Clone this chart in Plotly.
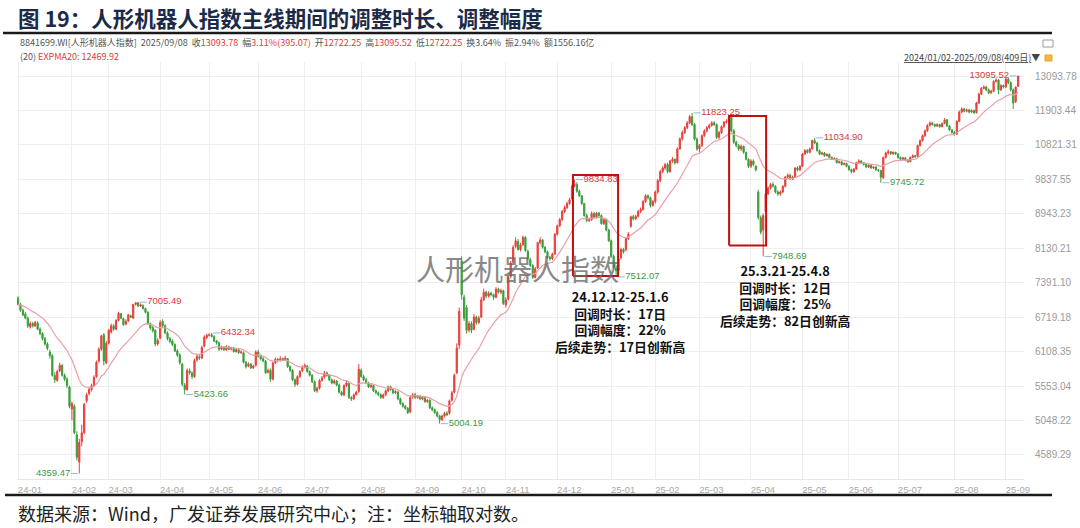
import math
import plotly.graph_objects as go

# ---------------- data ----------------
MONTH_LABELS = ["24-01", "24-02", "24-03", "24-04", "24-05", "24-06", "24-07", "24-08", "24-09",
                "24-10", "24-11", "24-12", "25-01", "25-02", "25-03", "25-04", "25-05", "25-06",
                "25-07", "25-08", "25-09"]
MONTH_DAYS = [22, 15, 21, 20, 20, 19, 23, 22, 19, 18, 21, 22, 18, 18, 21, 21, 19, 20, 23, 21, 6]

OPEN = [
    # 2024-01
    7080, 6960, 6850, 6780, 6700, 6540, 6600, 6560, 6610, 6500, 6420, 6330, 6240, 6100, 6040, 5720, 5640, 5790, 5880, 5720, 5660, 5540,
    # 2024-02
    5210, 5250, 4850, 4500, 4760, 4880, 5330, 5440, 5500, 5560, 5700, 5950, 6150, 6400, 5920,
    # 2024-03
    6250, 6450, 6560, 6500, 6660, 6780, 6690, 6590, 6650, 6740, 6700, 6960, 6990, 6930, 6940, 6880, 6810, 6600, 6530, 6480, 6240,
    # 2024-04
    6340, 6640, 6560, 6430, 6330, 6290, 6230, 6120, 6050, 5900, 5570, 5500, 5790, 5760, 5700, 5970, 6020, 6000, 6200, 6350,
    # 2024-05
    6390, 6400, 6370, 6290, 6260, 6150, 6180, 6140, 6190, 6150, 6170, 6110, 6140, 6090, 6090, 5930, 5870, 5900, 5840, 5880,
    # 2024-06
    6100, 6030, 5990, 5950, 5770, 5800, 5660, 5920, 5980, 5960, 5990, 5970, 5990, 5860, 5800, 5650, 5580, 5700, 5790,
    # 2024-07
    5850, 5870, 5780, 5720, 5620, 5480, 5520, 5640, 5690, 5760, 5720, 5650, 5600, 5630, 5570, 5460, 5420, 5560, 5590, 5380, 5360, 5420, 5470,
    # 2024-08
    5800, 5700, 5650, 5600, 5540, 5560, 5480, 5450, 5420, 5380, 5420, 5480, 5540, 5500, 5450, 5460, 5360, 5290, 5250, 5220, 5170, 5390,
    # 2024-09
    5420, 5380, 5400, 5360, 5380, 5320, 5340, 5230, 5200, 5160, 5110, 5060, 5110, 5150, 5150, 5340, 5460, 5760, 6220,
    # 2024-10
    7850, 7100, 6900, 6480, 6600, 6500, 6720, 6620, 6720, 7050, 7200, 7120, 7180, 7150, 7100, 7260, 7200, 7230,
    # 2024-11
    6950, 7060, 7520, 7820, 8170, 8280, 8100, 8210, 8380, 8060, 7880, 7750, 7500, 7700, 8260, 8320, 8150, 8050, 7930, 7900, 8000,
    # 2024-12
    8450, 8650, 8800, 9000, 9100, 9200, 9320, 9650, 9700, 9520, 9400, 9200, 8900, 8780, 8800, 8950, 8850, 8960, 8900, 8700, 8800, 8550,
    # 2025-01
    8300, 7950, 7700, 7650, 7920, 8100, 8100, 8350, 8640, 8870, 8820, 8880, 9000, 9050, 9250, 9400, 9350, 9150,
    # 2025-02
    9250, 9500, 9800, 10050, 10150, 10250, 10050, 10350, 10400, 10300, 10700, 11000, 11200, 11350, 11500, 11700, 11450, 11000,
    # 2025-03
    10700, 10800, 11100, 11250, 11350, 11420, 11500, 11450, 11050, 11200, 11380, 11520, 11560, 11700, 11250, 10900, 10800, 10700, 10780, 10600, 10400,
    # 2025-04
    10200, 10350, 10200, 9500, 8850, 8550, 9000, 9450, 9600, 9700, 9650, 9500, 9450, 9500, 9650, 9900, 9950, 9850, 9900, 10150, 10100,
    # 2025-05
    10200, 10550, 10650, 10600, 10700, 10950, 10880, 10650, 10550, 10580, 10500, 10540, 10450, 10400, 10420, 10300, 10330, 10250, 10280,
    # 2025-06
    10200, 10100, 10050, 10120, 10300, 10350, 10300, 10250, 10180, 10230, 10150, 10180, 10100, 10080, 9880, 10450, 10580, 10620, 10560, 10600,
    # 2025-07
    10550, 10450, 10400, 10440, 10370, 10330, 10450, 10500, 10480, 10800, 10950, 11100, 11250, 11420, 11500, 11450, 11400, 11450, 11380, 11480, 11600, 11400, 11280,
    # 2025-08
    11200, 11150, 11550, 11850, 11950, 11880, 11920, 11850, 11900, 11830, 12150, 12450, 12650, 12700, 12600, 12500, 12550, 12900, 12950, 12600, 12750,
    # 2025-09
    12700, 12980, 12850, 12600, 12200, 12722.25,
]

HIGH = [
    7120, 6990, 6880, 6820, 6730, 6640, 6630, 6650, 6640, 6530, 6450, 6360, 6270, 6140, 6070, 5770, 5810, 5920, 5900, 5750, 5690, 5560,
    5320, 5280, 4900, 4800, 4990, 5300, 5450, 5530, 5590, 5720, 5960, 6180, 6400, 6430, 6290,
    6500, 6600, 6590, 6680, 6820, 6800, 6710, 6680, 6780, 6770, 6970, 7000, 7005.49, 6980, 6960, 6900, 6830, 6620, 6560, 6500, 6340,
    6660, 6680, 6590, 6460, 6360, 6320, 6250, 6150, 6080, 5920, 5600, 5830, 5830, 5780, 5990, 6070, 6050, 6210, 6390, 6420,
    6425, 6432.34, 6390, 6310, 6280, 6210, 6200, 6220, 6210, 6190, 6190, 6160, 6160, 6130, 6110, 5950, 5930, 5920, 5890, 6130,
    6140, 6060, 6020, 5970, 5830, 5830, 5940, 6010, 6000, 6030, 6010, 6040, 6000, 5880, 5820, 5670, 5720, 5800, 5880,
    5910, 5890, 5800, 5740, 5640, 5540, 5660, 5710, 5790, 5780, 5740, 5670, 5660, 5650, 5590, 5480, 5580, 5630, 5610, 5400, 5440, 5480, 5900,
    5830, 5730, 5680, 5620, 5590, 5580, 5500, 5470, 5440, 5440, 5500, 5560, 5560, 5520, 5490, 5480, 5380, 5310, 5270, 5240, 5400, 5450,
    5450, 5420, 5420, 5400, 5400, 5360, 5350, 5250, 5220, 5180, 5130, 5130, 5170, 5180, 5350, 5480, 5750, 6250, 6900,
    7950, 7150, 6950, 6650, 6640, 6780, 6750, 6740, 7110, 7270, 7230, 7220, 7210, 7170, 7300, 7290, 7270, 7250,
    7100, 7530, 7850, 8200, 8380, 8340, 8250, 8420, 8400, 8100, 7920, 7780, 7720, 8280, 8380, 8340, 8180, 8080, 7960, 8030, 8480,
    8680, 8840, 9040, 9150, 9250, 9350, 9700, 9834.83, 9760, 9560, 9420, 9220, 8950, 8850, 9000, 8990, 8990, 8990, 8930, 8830, 8830, 8580,
    8330, 7990, 7760, 7930, 8140, 8140, 8380, 8500, 8900, 8920, 8920, 9040, 9100, 9290, 9440, 9440, 9380, 9290,
    9540, 9850, 10100, 10200, 10300, 10300, 10380, 10460, 10420, 10750, 11050, 11260, 11400, 11560, 11760, 11823.25, 11500, 11050,
    10850, 11140, 11300, 11400, 11480, 11560, 11560, 11480, 11250, 11420, 11560, 11620, 11760, 11720, 11300, 10950, 10850, 10830, 10800, 10620, 10430,
    10400, 10400, 10240, 9560, 8900, 8950, 9480, 9650, 9740, 9760, 9680, 9540, 9540, 9680, 9930, 10000, 9990, 9940, 10180, 10200, 10230,
    10580, 10700, 10700, 10740, 10980, 11034.90, 10900, 10680, 10620, 10610, 10570, 10570, 10480, 10460, 10440, 10360, 10360, 10310, 10300,
    10230, 10130, 10150, 10330, 10400, 10380, 10320, 10270, 10260, 10250, 10200, 10200, 10120, 10100, 10480, 10620, 10680, 10640, 10630, 10620,
    10580, 10480, 10470, 10460, 10400, 10480, 10540, 10530, 10830, 10990, 11140, 11290, 11460, 11550, 11540, 11480, 11490, 11470, 11510, 11650, 11620, 11430, 11310,
    11250, 11580, 11900, 12010, 11980, 11960, 11950, 11940, 11930, 12190, 12500, 12700, 12760, 12740, 12650, 12600, 12940, 13010, 12980, 12800, 12790,
    13020, 13030, 12900, 12650, 12720, 13095.52,
]

LOW = [
    6940, 6820, 6740, 6680, 6520, 6510, 6530, 6540, 6480, 6390, 6300, 6210, 6130, 5990, 5700, 5600, 5620, 5770, 5700, 5630, 5520, 5220,
    5050, 4860, 4520, 4359.47, 4700, 4860, 5300, 5410, 5470, 5540, 5680, 5920, 6120, 5880, 5900,
    6230, 6420, 6470, 6480, 6640, 6680, 6560, 6570, 6630, 6700, 6690, 6940, 6910, 6910, 6860, 6790, 6580, 6490, 6440, 6200, 6210,
    6320, 6530, 6410, 6300, 6250, 6200, 6100, 6020, 5890, 5550, 5423.66, 5480, 5730, 5660, 5680, 5940, 5970, 5980, 6180, 6320,
    6370, 6350, 6270, 6230, 6120, 6130, 6120, 6120, 6130, 6130, 6090, 6090, 6070, 6070, 5910, 5830, 5850, 5820, 5820, 5860,
    6010, 5960, 5930, 5740, 5750, 5620, 5640, 5900, 5930, 5940, 5950, 5950, 5840, 5770, 5630, 5540, 5560, 5680, 5770,
    5830, 5760, 5700, 5600, 5460, 5450, 5500, 5620, 5670, 5700, 5630, 5580, 5580, 5550, 5440, 5400, 5400, 5540, 5360, 5330, 5340, 5410, 5450,
    5680, 5630, 5580, 5520, 5520, 5460, 5430, 5400, 5360, 5360, 5400, 5460, 5480, 5430, 5430, 5340, 5270, 5230, 5200, 5140, 5150, 5360,
    5360, 5360, 5340, 5340, 5300, 5300, 5210, 5180, 5140, 5090, 5004.19, 5040, 5090, 5110, 5130, 5320, 5440, 5740, 6150,
    7050, 6650, 6420, 6440, 6430, 6480, 6580, 6590, 6700, 7020, 7080, 7090, 7120, 7050, 7080, 7170, 7160, 6950,
    6900, 7040, 7480, 7800, 8130, 8080, 8060, 8180, 8050, 7870, 7720, 7470, 7480, 7680, 8220, 8120, 8020, 7900, 7860, 7870, 7980,
    8420, 8620, 8770, 8960, 9060, 9170, 9300, 9620, 9480, 9370, 9170, 8870, 8740, 8740, 8770, 8820, 8830, 8870, 8680, 8670, 8520, 8270,
    7920, 7680, 7512.07, 7600, 7880, 8010, 8060, 8320, 8600, 8780, 8790, 8850, 8960, 9020, 9220, 9300, 9100, 9120,
    9200, 9450, 9760, 10000, 10100, 10000, 10020, 10300, 10250, 10280, 10680, 10950, 11150, 11300, 11460, 11400, 10950, 10650,
    10600, 10760, 11060, 11200, 11300, 11380, 11400, 11000, 11000, 11150, 11340, 11480, 11520, 11200, 10850, 10750, 10640, 10650, 10560, 10370, 10150,
    10150, 10200, 10050, 8800, 8450, 7948.69, 8980, 9420, 9560, 9620, 9460, 9400, 9400, 9470, 9620, 9860, 9820, 9820, 9880, 10060, 10060,
    10180, 10520, 10560, 10570, 10680, 10850, 10620, 10520, 10520, 10470, 10480, 10430, 10380, 10370, 10280, 10280, 10220, 10230, 10170,
    10080, 10000, 10020, 10100, 10270, 10270, 10220, 10150, 10150, 10130, 10120, 10070, 10040, 9745.72, 9850, 10420, 10540, 10530, 10530, 10520,
    10420, 10370, 10380, 10340, 10300, 10310, 10430, 10440, 10460, 10770, 10920, 11060, 11220, 11390, 11420, 11360, 11370, 11350, 11360, 11460, 11380, 11250, 11160,
    11100, 11120, 11520, 11810, 11840, 11840, 11810, 11820, 11790, 11800, 12120, 12420, 12620, 12560, 12450, 12460, 12520, 12860, 12450, 12560, 12650,
    12660, 12800, 12550, 11950, 12150, 12722.25,
]

CLOSE = [
    6960, 6850, 6760, 6700, 6560, 6600, 6560, 6620, 6500, 6420, 6330, 6240, 6160, 6040, 5720, 5650, 5780, 5880, 5720, 5660, 5560, 5250,
    5290, 4880, 4560, 4750, 4880, 5280, 5420, 5500, 5560, 5690, 5930, 6150, 6380, 5950, 6250,
    6480, 6560, 6500, 6660, 6790, 6700, 6580, 6640, 6760, 6720, 6960, 6990, 6930, 6950, 6880, 6810, 6600, 6520, 6470, 6240, 6300,
    6620, 6560, 6430, 6330, 6280, 6230, 6120, 6050, 5920, 5580, 5500, 5800, 5760, 5700, 5960, 6030, 6000, 6180, 6360, 6390,
    6400, 6370, 6290, 6260, 6150, 6180, 6140, 6190, 6150, 6170, 6110, 6140, 6090, 6100, 5930, 5860, 5900, 5840, 5870, 6100,
    6030, 5990, 5950, 5760, 5800, 5660, 5920, 5980, 5960, 5990, 5970, 6000, 5860, 5800, 5650, 5580, 5700, 5780, 5850,
    5880, 5780, 5720, 5620, 5480, 5520, 5640, 5680, 5760, 5720, 5650, 5600, 5630, 5570, 5460, 5420, 5560, 5600, 5380, 5360, 5420, 5460, 5820,
    5700, 5650, 5600, 5540, 5560, 5480, 5450, 5420, 5380, 5420, 5480, 5540, 5500, 5450, 5470, 5360, 5290, 5250, 5220, 5160, 5380, 5420,
    5380, 5400, 5360, 5380, 5320, 5340, 5230, 5200, 5160, 5110, 5060, 5110, 5150, 5130, 5330, 5450, 5720, 6170, 6830,
    7150, 6700, 6480, 6600, 6480, 6720, 6620, 6700, 7050, 7200, 7120, 7180, 7150, 7100, 7260, 7200, 7230, 6980,
    7050, 7500, 7800, 8150, 8300, 8100, 8200, 8380, 8080, 7900, 7750, 7500, 7680, 8260, 8320, 8150, 8050, 7920, 7900, 8000, 8450,
    8650, 8800, 9000, 9100, 9200, 9300, 9650, 9720, 9520, 9400, 9200, 8900, 8780, 8800, 8950, 8850, 8960, 8900, 8700, 8800, 8550, 8300,
    7950, 7700, 7640, 7900, 8100, 8050, 8350, 8450, 8870, 8820, 8880, 9000, 9050, 9250, 9400, 9350, 9150, 9250,
    9500, 9800, 10050, 10150, 10250, 10050, 10350, 10400, 10300, 10700, 11000, 11200, 11350, 11500, 11700, 11450, 11000, 10700,
    10800, 11100, 11250, 11350, 11420, 11500, 11450, 11050, 11200, 11380, 11520, 11550, 11700, 11250, 10900, 10800, 10700, 10780, 10600, 10400, 10200,
    10350, 10250, 10100, 8850, 8500, 8900, 9450, 9600, 9700, 9650, 9500, 9450, 9500, 9650, 9900, 9950, 9850, 9900, 10150, 10100, 10200,
    10550, 10650, 10600, 10700, 10950, 10880, 10650, 10550, 10580, 10500, 10540, 10450, 10400, 10420, 10300, 10330, 10250, 10280, 10200,
    10100, 10050, 10120, 10300, 10350, 10300, 10250, 10180, 10230, 10150, 10180, 10100, 10080, 9900, 10450, 10580, 10620, 10560, 10600, 10550,
    10450, 10400, 10440, 10370, 10330, 10450, 10500, 10480, 10800, 10950, 11100, 11250, 11420, 11500, 11450, 11400, 11450, 11380, 11480, 11600, 11400, 11280, 11200,
    11150, 11550, 11850, 11950, 11880, 11920, 11850, 11900, 11830, 12150, 12450, 12650, 12700, 12600, 12500, 12550, 12900, 12950, 12600, 12750, 12700,
    12980, 12850, 12600, 12150, 12698.71, 13093.78,
]

Y_TICKS = [13093.78, 11903.44, 10821.31, 9837.55, 8943.23, 8130.21, 7391.10, 6719.18,
           6108.35, 5553.04, 5048.22, 4589.29]
Y_TICK_TEXT = ["13093.78", "11903.44", "10821.31", "9837.55", "8943.23", "8130.21", "7391.10",
               "6719.18", "6108.35", "5553.04", "5048.22", "4589.29"]

# marked extremes: (trading-day index, 'H' or 'L', label side)
MARKS = [(25, "L", "left"), (49, "H", "right"), (68, "L", "right"), (79, "H", "right"),
         (172, "L", "right"), (227, "H", "right"), (244, "L", "right"), (275, "H", "right"),
         (304, "L", "right"), (325, "H", "right"), (352, "L", "right"), (408, "H", "left")]

# highlighted correction windows: (first idx, last idx, price bottom, price top)
BOXES = [(226.4, 244.8, 7530, 9960), (290.1, 305.2, 8190, 11720)]

BLOCK1 = ["24.12.12-25.1.6", "回调时长：17日", "回调幅度：22%", "后续走势：17日创新高"]
BLOCK2 = ["25.3.21-25.4.8", "回调时长：12日", "回调幅度：25%", "后续走势：82日创新高"]

EMA_N = 20

# ---------------- derived ----------------
N = len(CLOSE)
idx = list(range(N))
month_start = []
s = 0
for d in MONTH_DAYS:
    month_start.append(s)
    s += d

alpha = 2.0 / (EMA_N + 1)
ema = []
for i, c in enumerate(CLOSE):
    ema.append(c if i == 0 else alpha * c + (1 - alpha) * ema[-1])

RED = "#e8403c"
GREEN = "#3a9e3a"
CJK = "Noto Sans CJK SC, Noto Sans, sans-serif"
LAT = "Liberation Sans, Noto Sans CJK SC, sans-serif"

# plot-area pixel frame
PL, PR, PT, PB = 17, 1024, 62, 479


def px(x):
    return (x - PL) / (PR - PL)


def py(y):
    return (PB - y) / (PB - PT)


fig = go.Figure()

fig.add_trace(go.Candlestick(
    x=idx, open=OPEN, high=HIGH, low=LOW, close=CLOSE,
    increasing=dict(line=dict(color=RED, width=1), fillcolor=RED),
    decreasing=dict(line=dict(color=GREEN, width=1), fillcolor=GREEN),
    whiskerwidth=0, showlegend=False, hoverinfo="skip"))

fig.add_trace(go.Scatter(x=idx, y=ema, mode="lines",
                         line=dict(color="#eb9ea8", width=1.2),
                         showlegend=False, hoverinfo="skip"))

# extreme-value markers
cx, cy, tx, ty, tt, tp, tc = [], [], [], [], [], [], []
for i, kind, side in MARKS:
    v = HIGH[i] if kind == "H" else LOW[i]
    sgn = 1 if side == "right" else -1
    cx += [i + sgn * 0.6, i + sgn * 3.5, None]
    cy += [v, v, None]
    tx.append(i + sgn * 3.7)
    ty.append(v)
    tt.append(f"{v:.2f}")
    tp.append("middle right" if side == "right" else "middle left")
    tc.append("#d83a3a" if kind == "H" else "#3e9a3e")
fig.add_trace(go.Scatter(x=cx, y=cy, mode="lines", line=dict(color="#8db8e0", width=1),
                         showlegend=False, hoverinfo="skip"))
fig.add_trace(go.Scatter(x=tx, y=ty, mode="text", text=tt, textposition=tp,
                         textfont=dict(size=9.5, color=tc, family=LAT),
                         showlegend=False, hoverinfo="skip", cliponaxis=False))

# red correction boxes
for x0, x1, y0, y1 in BOXES:
    fig.add_trace(go.Scatter(x=[x0, x1, x1, x0, x0], y=[y0, y0, y1, y1, y0], mode="lines",
                             line=dict(color="#c40f0f", width=2),
                             showlegend=False, hoverinfo="skip"))

ann = []
# title
ann.append(dict(x=px(16), y=py(18), xanchor="left", yanchor="middle",
                text="<b>图 19：人形机器人指数主线期间的调整时长、调整幅度</b>",
                font=dict(size=21.5, color="#1b2a48", family=CJK)))
# header lines
g = "#555555"
r = "#e0393e"
hdr = (f"<span style='color:{g}'>8841699.WI[人形机器人指数]  2025/09/08  收</span>"
       f"<span style='color:{r}'>13093.78</span><span style='color:{g}'>  幅</span>"
       f"<span style='color:{r}'>3.11%(395.07)</span><span style='color:{g}'>  开</span>"
       f"<span style='color:{r}'>12722.25</span><span style='color:{g}'>  高</span>"
       f"<span style='color:{r}'>13095.52</span><span style='color:{g}'>  低</span>"
       f"<span style='color:{r}'>12722.25</span>"
       f"<span style='color:{g}'>  换3.64%  振2.94%  额1556.16亿</span>")
ann.append(dict(x=px(18), y=py(42), xanchor="left", yanchor="middle", text=hdr,
                font=dict(size=9, family=CJK)))
ann.append(dict(x=px(18), y=py(56), xanchor="left", yanchor="middle",
                text=f"<span style='color:{g}'>(20) </span><span style='color:{r}'>EXPMA20: 12469.92</span>",
                font=dict(size=9, family=CJK)))
ann.append(dict(x=px(1042), y=py(57), xanchor="right", yanchor="middle",
                text="<u>2024/01/02-2025/09/08(409日)</u>▼",
                font=dict(size=9, color="#444444", family=CJK)))
# watermark
ann.append(dict(x=px(517), y=py(268), xanchor="center", yanchor="middle",
                text="人形机器人指数",
                font=dict(size=29, color="rgba(105,105,105,0.8)", family=CJK)))
# text blocks (one multi-line annotation each)
ann.append(dict(x=px(620), y=py(321.5), xanchor="center", yanchor="middle",
                text="<br>".join(f"<b>{t}</b>" for t in BLOCK1),
                font=dict(size=12.8, color="#111111", family=CJK)))
ann.append(dict(x=px(785), y=py(295.5), xanchor="center", yanchor="middle",
                text="<br>".join(f"<b>{t}</b>" for t in BLOCK2),
                font=dict(size=12.8, color="#111111", family=CJK)))
# footer
ann.append(dict(x=px(16), y=py(513), xanchor="left", yanchor="middle",
                text="数据来源：Wind，广发证券发展研究中心；注：坐标轴取对数。",
                font=dict(size=18, color="#222222", family=CJK)))
for a in ann:
    a.update(xref="paper", yref="paper", showarrow=False)

shapes = [
    dict(type="line", xref="paper", yref="paper", x0=px(3), x1=px(1052), y0=py(33), y1=py(33),
         line=dict(color="#1a1a1a", width=2.5)),
    dict(type="line", xref="paper", yref="paper", x0=px(5), x1=px(1052), y0=py(495), y1=py(495),
         line=dict(color="#1a1a1a", width=2.5)),
    # small toolbar icons at top right
    dict(type="rect", xref="paper", yref="paper", x0=px(1043), x1=px(1053), y0=py(47), y1=py(40),
         line=dict(color="#9a9a9a", width=1)),
    dict(type="rect", xref="paper", yref="paper", x0=px(1045), x1=px(1052), y0=py(61), y1=py(55),
         line=dict(color="#f0a020", width=1), fillcolor="#f6b73c"),
]

log_top = math.log10(Y_TICKS[0]) + 14 * math.log10(1.1) / 34.45
log_bot = math.log10(Y_TICKS[0]) - 403 * math.log10(1.1) / 34.45

fig.update_layout(
    width=1080, height=528,
    margin=dict(l=PL, r=1080 - PR, t=PT, b=528 - PB, autoexpand=False),
    paper_bgcolor="white", plot_bgcolor="white",
    annotations=ann, shapes=shapes, showlegend=False,
    xaxis=dict(range=[-0.41, 410.4], tickmode="array", tickvals=month_start, ticktext=MONTH_LABELS,
               showgrid=True, gridcolor="#eeeeee", gridwidth=1, zeroline=False,
               showline=True, linecolor="#e6e6e6", ticks="", automargin=False,
               tickfont=dict(size=9.5, color="#a8a8a8", family=LAT),
               ticklabelshift=12, ticklabelstandoff=2,
               rangeslider=dict(visible=False), fixedrange=True),
    yaxis=dict(type="log", side="right", range=[log_bot, log_top], automargin=False,
               tickmode="array", tickvals=Y_TICKS, ticktext=Y_TICK_TEXT,
               showgrid=True, gridcolor="#eeeeee", zeroline=False, showline=False, ticks="",
               tickfont=dict(size=10, color="#9a9a9a", family=LAT),
               ticklabelstandoff=10, fixedrange=True),
)

fig.write_html("out.html", config={"displayModeBar": False},
               post_script="document.body.style.margin='0';document.body.style.overflow='hidden';")
